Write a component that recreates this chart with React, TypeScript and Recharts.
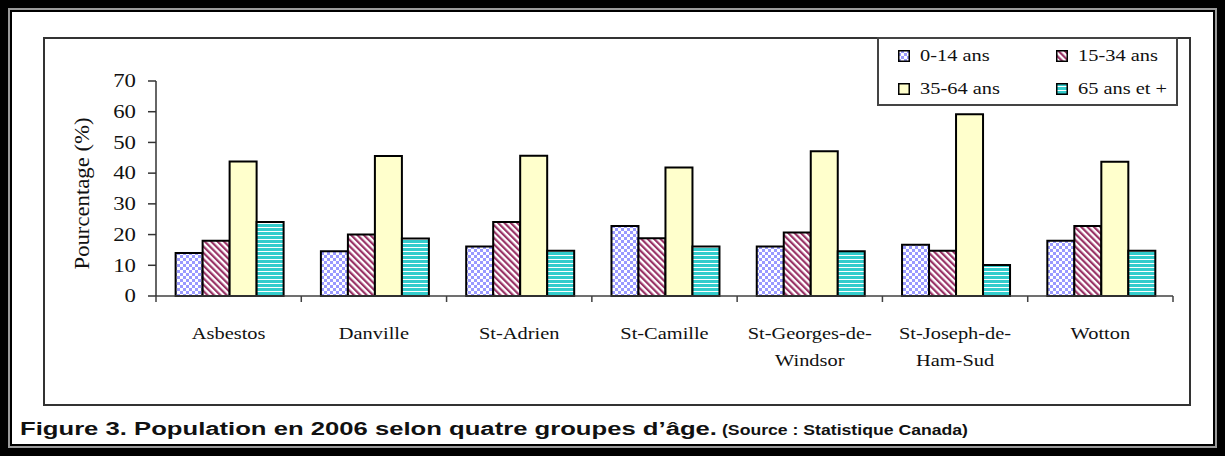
import React from "react";
import { BarChart, Bar, XAxis, YAxis, Legend } from "recharts";

const categories = [
  "Asbestos",
  "Danville",
  "St-Adrien",
  "St-Camille",
  "St-Georges-de-Windsor",
  "St-Joseph-de-Ham-Sud",
  "Wotton",
];
const categoryLabelLines = [
  ["Asbestos"],
  ["Danville"],
  ["St-Adrien"],
  ["St-Camille"],
  ["St-Georges-de-", "Windsor"],
  ["St-Joseph-de-", "Ham-Sud"],
  ["Wotton"],
];
const age0to14 = [14.0, 14.6, 16.1, 22.8, 16.1, 16.7, 18.0];
const age15to34 = [18.0, 20.0, 24.1, 18.8, 20.7, 14.7, 22.8];
const age35to64 = [43.8, 45.6, 45.7, 41.8, 47.1, 59.2, 43.7];
const age65plus = [24.1, 18.7, 14.7, 16.1, 14.6, 10.1, 14.7];
const seriesNames = ["0-14 ans", "15-34 ans", "35-64 ans", "65 ans et +"];
const yTicks = [0, 10, 20, 30, 40, 50, 60, 70];
const yLabel = "Pourcentage (%)";
const captionMain = "Figure 3. Population en 2006 selon quatre groupes d\u2019\u00e2ge.";
const captionSource = "(Source : Statistique Canada)";

const data = categories.map((name, i) => ({
  name,
  a: age0to14[i],
  b: age15to34[i],
  c: age35to64[i],
  d: age65plus[i],
}));

const seriesKeys = ["a", "b", "c", "d"];
const seriesFills = ["url(#pat014)", "url(#pat1534)", "#ffffcc", "url(#pat65)"];

const SERIF = "'Liberation Serif', 'Times New Roman', serif";
const SANS = "'Liberation Sans', Arial, sans-serif";
const STRETCH = 1.2;

const W = 1225;
const H = 456;
const M = { top: 81, right: 52, bottom: 100, left: 0 };
const YAXIS_W = 156;
const BAND_HALF = (W - M.right - YAXIS_W) / categories.length / 2;

const XTick = (props: any) => {
  const { x, y, payload, index } = props;
  const half = payload && typeof payload.offset === "number" && payload.offset > 0 ? payload.offset : BAND_HALF;
  const idx = categories.indexOf(payload.value);
  const lines = idx >= 0 ? categoryLabelLines[idx] : [String(payload.value)];
  return (
    <g>
      <line x1={x - half} x2={x - half} y1={y} y2={y + 6} stroke="#404040" strokeWidth={1.5} />
      {index === categories.length - 1 && (
        <line x1={x + half} x2={x + half} y1={y} y2={y + 6} stroke="#404040" strokeWidth={1.5} />
      )}
      <g transform={`translate(${x},${y + 43}) scale(${STRETCH},1)`}>
        <text textAnchor="middle" fontFamily={SERIF} fontSize={17} fill="#111">
          {lines.map((l: string, i: number) => (
            <tspan key={i} x={0} y={i * 27}>
              {l}
            </tspan>
          ))}
        </text>
      </g>
    </g>
  );
};

const YTick = (props: any) => {
  const { x, y, payload } = props;
  return (
    <g transform={`translate(${x},${y}) scale(${STRETCH},1)`}>
      <text textAnchor="end" dominantBaseline="central" fontFamily={SERIF} fontSize={19} fill="#111">
        {payload.value}
      </text>
    </g>
  );
};

const YLabelContent = (props: any) => {
  const vb = props.viewBox || { x: 0, y: M.top, width: YAXIS_W, height: 215 };
  const cx = vb.x + 82;
  const cy = vb.y + vb.height / 2 + 5;
  return (
    <text
      x={cx}
      y={cy}
      transform={`rotate(-90 ${cx} ${cy})`}
      textAnchor="middle"
      dominantBaseline="central"
      fontFamily={SERIF}
      fontSize={20}
      textLength={152}
      lengthAdjust="spacingAndGlyphs"
      fill="#111"
    >
      {yLabel}
    </text>
  );
};

const LegendContent = () => (
  <div style={{ position: "relative", width: "100%", height: "100%" }}>
    {seriesNames.map((n, i) => {
      const col = i % 2;
      const row = Math.floor(i / 2);
      return (
        <div
          key={n}
          style={{
            position: "absolute",
            left: 19 + col * 158,
            top: 17 + row * 33 - 10,
            height: 20,
            display: "flex",
            alignItems: "center",
            whiteSpace: "nowrap",
          }}
        >
          <svg width={12} height={12} style={{ display: "block" }}>
            <rect x={0.75} y={0.75} width={10.5} height={10.5} fill={seriesFills[i]} stroke="#000" strokeWidth={1.5} />
          </svg>
          <span
            style={{
              marginLeft: 10,
              fontFamily: SERIF,
              fontSize: 17,
              color: "#111",
              lineHeight: "20px",
              display: "inline-block",
              transform: `scaleX(${STRETCH})`,
              transformOrigin: "left center",
            }}
          >
            {n}
          </span>
        </div>
      );
    })}
  </div>
);

export default function App() {
  return (
    <div style={{ position: "relative", width: W, height: H, background: "#fff", overflow: "hidden" }}>
      <style>{"body{margin:0}"}</style>
      <svg width={0} height={0} style={{ position: "absolute", left: 0, top: 0 }}>
        <defs>
          <pattern id="pat014" width="6" height="6" patternUnits="userSpaceOnUse">
            <rect width="6" height="6" fill="#9999ff" />
            <rect width="3" height="3" fill="#ffffff" />
            <rect x="3" y="3" width="3" height="3" fill="#ffffff" />
          </pattern>
          <pattern id="pat1534" width="4.5" height="4.5" patternUnits="userSpaceOnUse" patternTransform="rotate(-45)">
            <rect width="4.5" height="4.5" fill="#ffffff" />
            <rect width="2.2" height="4.5" fill="#993366" />
          </pattern>
          <pattern id="pat65" width="4" height="4" patternUnits="userSpaceOnUse">
            <rect width="4" height="4" fill="#ffffff" />
            <rect width="4" height="3" fill="#33cccc" />
          </pattern>
        </defs>
      </svg>

      <div style={{ position: "absolute", left: 0, top: 0, width: W, height: H, border: "8px solid #000", boxSizing: "border-box" }} />
      <div style={{ position: "absolute", left: 8, top: 8, width: W - 16, height: H - 16, border: "2px solid #9a9a9a", boxSizing: "border-box" }} />
      <div style={{ position: "absolute", left: 10, top: 10, width: W - 20, height: H - 20, border: "2px solid #000", boxSizing: "border-box" }} />

      <div style={{ position: "absolute", left: 43, top: 37, width: 1148, height: 369, border: "2px solid #333", boxSizing: "border-box" }} />

      <div style={{ position: "absolute", left: 0, top: 0 }}>
        <BarChart width={W} height={H} data={data} margin={M} barGap={0} barCategoryGap="13.5%">
          <XAxis
            dataKey="name"
            interval={0}
            tickLine={false}
            tickSize={0}
            tickMargin={0}
            height={60}
            axisLine={{ stroke: "#404040", strokeWidth: 1.5 }}
            tick={<XTick />}
          />
          <YAxis
            width={YAXIS_W}
            domain={[0, 70]}
            ticks={yTicks}
            interval={0}
            tickSize={8}
            tickMargin={12}
            axisLine={{ stroke: "#333", strokeWidth: 1.5 }}
            tickLine={{ stroke: "#333", strokeWidth: 1.5 }}
            tick={<YTick />}
            label={{ content: <YLabelContent /> }}
          />
          <Legend
            layout="horizontal"
            verticalAlign="middle"
            align="center"
            content={<LegendContent />}
            wrapperStyle={{
              position: "absolute",
              left: 877,
              top: 37,
              width: 301,
              height: 69,
              border: "2px solid #444",
              boxSizing: "border-box",
              background: "#fff",
            }}
          />
          {seriesKeys.map((k, i) => (
            <Bar
              key={k}
              dataKey={k}
              name={seriesNames[i]}
              fill={seriesFills[i]}
              stroke="#000"
              strokeWidth={2}
              isAnimationActive={false}
            />
          ))}
        </BarChart>
      </div>

      <svg width={W} height={H} style={{ position: "absolute", left: 0, top: 0, pointerEvents: "none" }}>
        <text x={20} y={435} fontFamily={SANS} fontWeight="bold" fontSize={18} fill="#111" textLength={697} lengthAdjust="spacingAndGlyphs">
          {captionMain}
        </text>
        <text x={722} y={435} fontFamily={SANS} fontWeight="bold" fontSize={14} fill="#111" textLength={246} lengthAdjust="spacingAndGlyphs">
          {captionSource}
        </text>
      </svg>
    </div>
  );
}
